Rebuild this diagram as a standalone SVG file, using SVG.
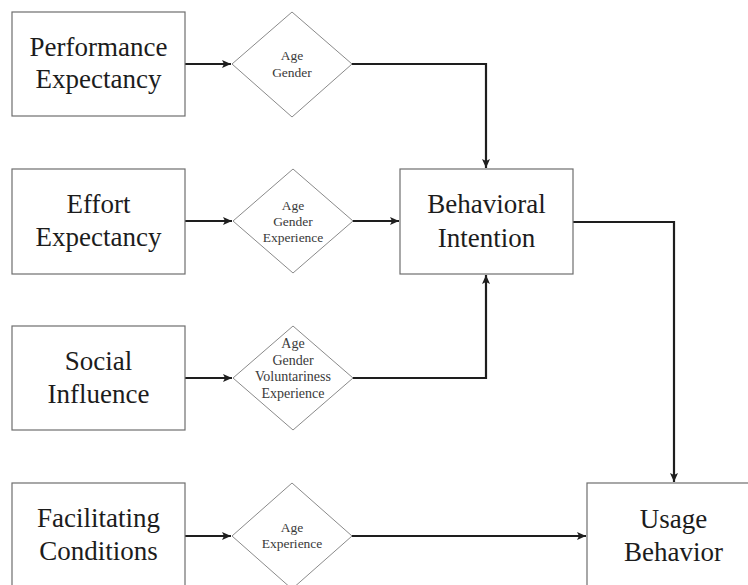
<svg xmlns="http://www.w3.org/2000/svg" width="748" height="585" viewBox="0 0 748 585">
<defs>
<style>
.box{fill:#fff;stroke:#6e6e6e;stroke-width:1.2}
.dia{fill:#fff;stroke:#8a8a8a;stroke-width:1}
.big{font-family:"Liberation Serif","Times New Roman",serif;font-size:27px;fill:#1c1c1c;text-anchor:middle}
.small{font-family:"Liberation Serif","Times New Roman",serif;font-size:13.5px;fill:#3a3a3a;text-anchor:middle}
.con{fill:none;stroke:#1e1e1e;stroke-width:2.2;marker-end:url(#arr)}
</style>
<marker id="arr" markerUnits="userSpaceOnUse" markerWidth="10" markerHeight="10" refX="9" refY="4" orient="auto">
<path d="M0,0 L9,4 L0,8 L2,4 Z" fill="#1e1e1e"/>
</marker>
</defs>
<rect width="748" height="585" fill="#fff"/>
<g id="connectors">
<path class="con" d="M185,64 H231"/>
<path class="con" d="M352,64 H486 V168"/>
<path class="con" d="M185,221 H232"/>
<path class="con" d="M353,221 H399"/>
<path class="con" d="M185,378 H232"/>
<path class="con" d="M353,378 H486 V275"/>
<path class="con" d="M573,222 H674 V482"/>
<path class="con" d="M185,536 H231"/>
<path class="con" d="M352,536 H586"/>
</g>
<g id="performance">
<rect class="box" x="12" y="12" width="173" height="104"/>
<text class="big" x="98.5" y="56">Performance</text>
<text class="big" x="98.5" y="88">Expectancy</text>
</g>
<g id="effort">
<rect class="box" x="12" y="169" width="173" height="105"/>
<text class="big" x="98.5" y="213">Effort</text>
<text class="big" x="98.5" y="246">Expectancy</text>
</g>
<g id="social">
<rect class="box" x="12" y="326" width="173" height="104"/>
<text class="big" x="98.5" y="370">Social</text>
<text class="big" x="98.5" y="403">Influence</text>
</g>
<g id="facilitating">
<rect class="box" x="12" y="483" width="173" height="110"/>
<text class="big" x="98.5" y="527">Facilitating</text>
<text class="big" x="98.5" y="560">Conditions</text>
</g>
<g id="mod1">
<polygon class="dia" points="292,12 352,64 292,117 232,64"/>
<text class="small" x="292" y="60">Age</text>
<text class="small" x="292" y="77">Gender</text>
</g>
<g id="mod2">
<polygon class="dia" points="293,169 353,221 293,273 233,221"/>
<text class="small" x="293" y="210">Age</text>
<text class="small" x="293" y="226">Gender</text>
<text class="small" x="293" y="242">Experience</text>
</g>
<g id="mod3">
<polygon class="dia" points="293,326 353,378 293,430 233,378"/>
<text class="small" x="293" y="348" style="font-size:14px">Age</text>
<text class="small" x="293" y="364.5" style="font-size:14px">Gender</text>
<text class="small" x="293" y="381" style="font-size:14px">Voluntariness</text>
<text class="small" x="293" y="397.5" style="font-size:14px">Experience</text>
</g>
<g id="mod4">
<polygon class="dia" points="292,483 352,536 292,589 232,536"/>
<text class="small" x="292" y="532">Age</text>
<text class="small" x="292" y="548">Experience</text>
</g>
<g id="intention">
<rect class="box" x="400" y="169" width="173" height="105"/>
<text class="big" x="486.5" y="213">Behavioral</text>
<text class="big" x="486.5" y="247">Intention</text>
</g>
<g id="usage">
<rect class="box" x="587" y="483" width="173" height="110"/>
<text class="big" x="673.5" y="528">Usage</text>
<text class="big" x="673.5" y="561">Behavior</text>
</g>
</svg>
